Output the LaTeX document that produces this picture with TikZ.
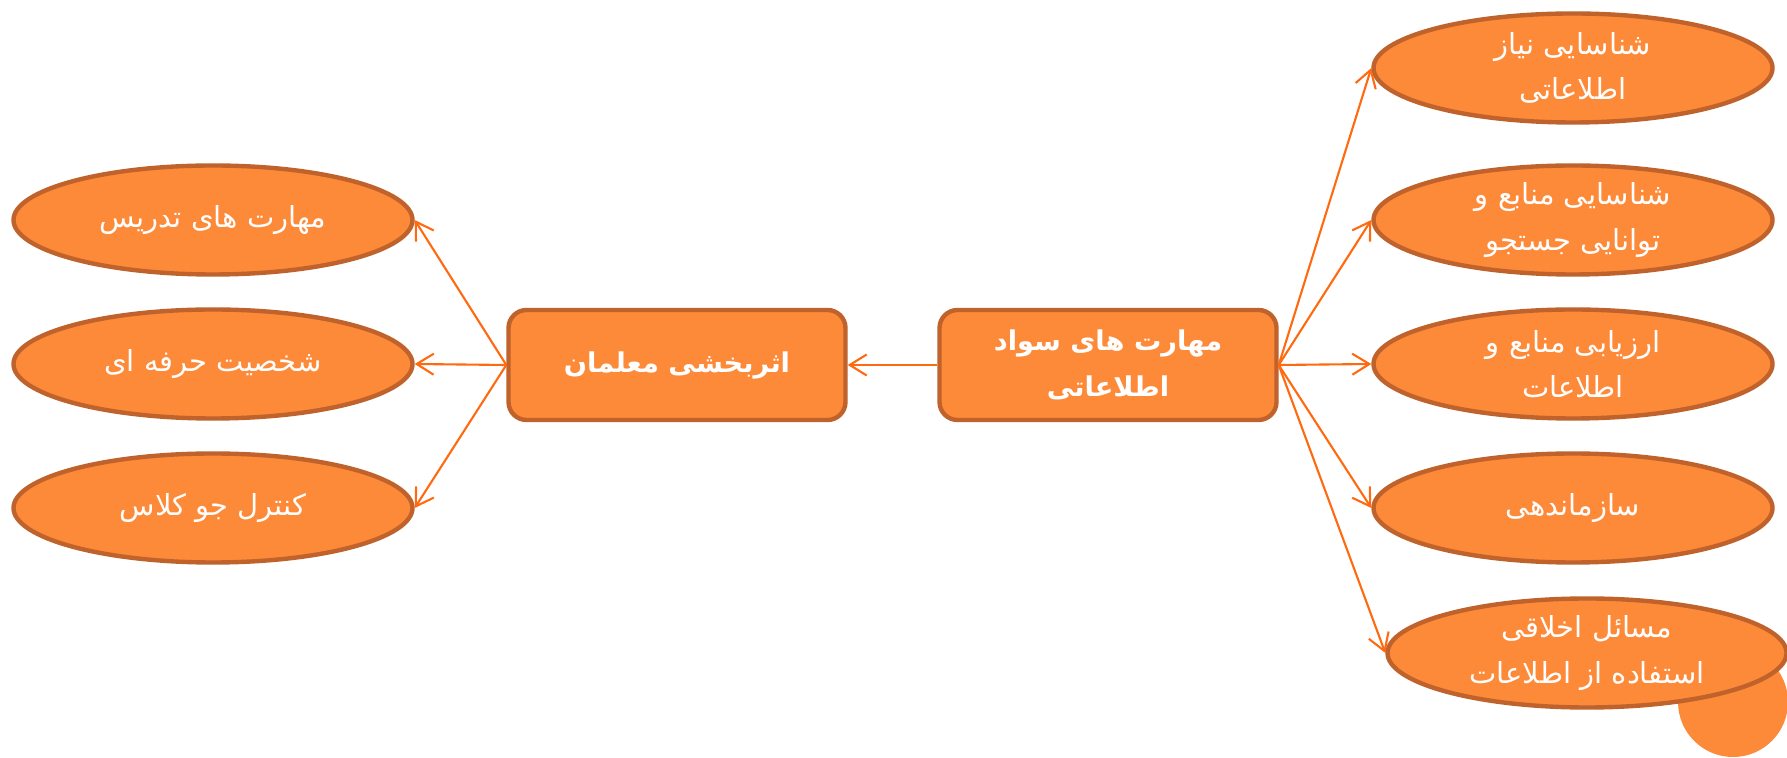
\documentclass[tikz,border=0pt]{standalone}
\usepackage{fontspec}
\newfontfamily\arabicfont[Script=Arabic]{DejaVu Sans}
\TeXXeTstate=1
\usetikzlibrary{arrows.meta,shapes.geometric}
\definecolor{mapfill}{HTML}{FD8A39}
\definecolor{mapedge}{HTML}{C0622B}
\definecolor{mapline}{HTML}{FF6A10}

\begin{document}
\begin{tikzpicture}[
  every node/.style={text=white, font=\arabicfont\fontsize{16.5}{26}\selectfont, align=center},
  topic/.style={ellipse, draw=mapedge, fill=mapfill, line width=2.5pt,
    inner sep=0pt, minimum width=7.98cm, minimum height=2.18cm},
  hub/.style={rectangle, rounded corners=0.36cm, draw=mapedge, fill=mapfill,
    line width=2.5pt, inner sep=0pt, minimum width=6.74cm, minimum height=2.2cm,
    font=\arabicfont\bfseries\fontsize{15.5}{26}\selectfont},
  link/.style={draw=mapline, line width=1.2pt,
    -{Straight Barb[length=0.34cm, width=0.42cm, line width=1.2pt]}}
]
\useasboundingbox (0,0) rectangle (35.74,15.16);
\fill[mapfill] (34.66,1.12) circle (1.1cm);

\node[hub] (literacy) at (22.16,7.86) {\beginR مهارت های سواد\endR\\\beginR اطلاعاتی\endR};
\node[hub] (effect) at (13.54,7.86) {\beginR اثربخشی معلمان\endR};

\node[topic] (need) at (31.46,13.8) {\beginR شناسایی نیاز\endR\\\beginR اطلاعاتی\endR};
\node[topic] (search) at (31.46,10.76) {\beginR شناسایی منابع و\endR\\\beginR توانایی جستجو\endR};
\node[topic] (assess) at (31.46,7.88) {\beginR ارزیابی منابع و\endR\\\beginR اطلاعات\endR};
\node[topic] (organize) at (31.46,5.0) {\beginR سازماندهی\endR};
\node[topic] (ethics) at (31.74,2.1) {\beginR مسائل اخلاقی\endR\\\beginR استفاده از اطلاعات\endR};

\node[topic] (teaching) at (4.26,10.76) {\beginR مهارت های تدریس\endR};
\node[topic] (persona) at (4.26,7.88) {\beginR شخصیت حرفه ای\endR};
\node[topic] (climate) at (4.26,5.0) {\beginR کنترل جو کلاس\endR};

\foreach \leaf in {need,search,assess,organize,ethics}
  \draw[link] (literacy.east) -- (\leaf.west);
\draw[link] (literacy.west) -- (effect.east);
\foreach \leaf in {teaching,persona,climate}
  \draw[link] (effect.west) -- (\leaf.east);
\end{tikzpicture}
\end{document}
